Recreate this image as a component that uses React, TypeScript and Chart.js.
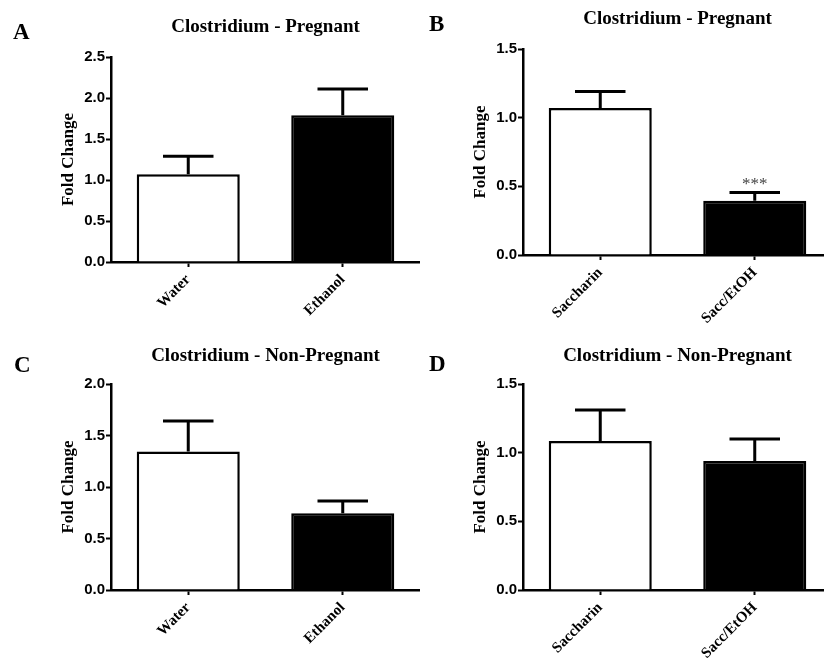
import React, { useEffect, useRef } from "react";
import { Chart, registerables } from "chart.js";

Chart.register(...registerables);

const SERIF = '"Liberation Serif", "Times New Roman", Times, serif';
const SANS = '"Liberation Sans", Arial, Helvetica, sans-serif';

// ---------- data ----------
const waterCategories = ["Water", "Ethanol"];
const saccCategories = ["Saccharin", "Sacc/EtOH"];

const panelAMeans = [1.07, 1.79];
const panelAErrors = [0.22, 0.32];
const panelAMax = 2.5;

const panelBMeans = [1.07, 0.395];
const panelBErrors = [0.12, 0.06];
const panelBMax = 1.5;
const panelBMarks = ["", "***"];

const panelCMeans = [1.345, 0.745];
const panelCErrors = [0.295, 0.12];
const panelCMax = 2.0;

const panelDMeans = [1.085, 0.94];
const panelDErrors = [0.225, 0.16];
const panelDMax = 1.5;

const pregnantTitle = "Clostridium - Pregnant";
const nonPregnantTitle = "Clostridium - Non-Pregnant";
const yAxisTitle = "Fold Change";
const yStep = 0.5;
const barFills = ["#ffffff", "#000000"];

// ---------- plugins ----------
const errorBarPlugin = {
  id: "errorBars",
  afterDatasetsDraw(chart: any, _args: any, opts: any) {
    const { ctx } = chart;
    const meta = chart.getDatasetMeta(0);
    const yScale = chart.scales.y;
    const errs: number[] = opts.errors || [];
    const marks: string[] = opts.marks || [];
    const values: number[] = chart.data.datasets[0].data;
    ctx.save();
    ctx.strokeStyle = "#000";
    ctx.lineWidth = 3;
    meta.data.forEach((bar: any, i: number) => {
      const e = errs[i];
      if (e == null) return;
      const v = values[i];
      const x = bar.x;
      const y0 = yScale.getPixelForValue(v);
      const y1 = yScale.getPixelForValue(v + e);
      const half = (bar.width * 0.49) / 2;
      ctx.beginPath();
      ctx.moveTo(x, y0);
      ctx.lineTo(x, y1);
      ctx.moveTo(x - half, y1);
      ctx.lineTo(x + half, y1);
      ctx.stroke();
      if (marks[i]) {
        ctx.fillStyle = "#444";
        ctx.font = `17px ${SERIF}`;
        ctx.textAlign = "center";
        ctx.textBaseline = "alphabetic";
        ctx.fillText(marks[i], x, y1 - 4);
      }
    });
    ctx.restore();
  },
};

const panelTitlePlugin = {
  id: "panelTitle",
  afterDraw(chart: any, _args: any, opts: any) {
    if (!opts.text) return;
    const { ctx, chartArea } = chart;
    ctx.save();
    ctx.font = `bold 19px ${SERIF}`;
    ctx.fillStyle = "#000";
    ctx.textAlign = "center";
    ctx.textBaseline = "alphabetic";
    ctx.fillText(opts.text, (chartArea.left + chartArea.right) / 2, opts.baseline);
    ctx.restore();
  },
};

type PanelProps = {
  left: number;
  top: number;
  width: number;
  height: number;
  labels: string[];
  values: number[];
  errors: number[];
  marks?: string[];
  yMax: number;
  title: string;
  titleBaseline: number;
  areaLeft: number;
  areaTop: number;
  areaBottom: number;
};

function Panel(p: PanelProps) {
  const ref = useRef<HTMLCanvasElement>(null);
  useEffect(() => {
    const chart = new Chart(ref.current as HTMLCanvasElement, {
      type: "bar",
      data: {
        labels: p.labels,
        datasets: [
          {
            data: p.values,
            backgroundColor: barFills,
            borderColor: "#000",
            borderWidth: 2.5,
            borderSkipped: "start",
            barPercentage: 0.667,
            categoryPercentage: 1,
          },
        ],
      },
      options: {
        responsive: false,
        animation: false,
        devicePixelRatio: 1,
        layout: { padding: { top: p.areaTop, left: 0, right: 0, bottom: 0 } },
        plugins: {
          legend: { display: false },
          tooltip: { enabled: false },
          title: { display: false },
          panelTitle: { text: p.title, baseline: p.titleBaseline },
          errorBars: { errors: p.errors, marks: p.marks || [] },
        } as any,
        scales: {
          x: {
            type: "category",
            offset: true,
            grid: {
              display: true,
              offset: false,
              drawOnChartArea: false,
              drawTicks: true,
              tickLength: 5,
              tickWidth: 2,
              tickColor: "#000",
            },
            border: { display: true, color: "#000", width: 2.5 },
            ticks: {
              color: "#000",
              font: { family: SERIF, size: 15, weight: "bold" },
              maxRotation: 45,
              minRotation: 45,
              padding: 4,
            },
            afterFit(scale: any) {
              scale.height = p.height - p.areaBottom;
            },
          },
          y: {
            min: 0,
            max: p.yMax,
            grid: {
              display: true,
              drawOnChartArea: false,
              drawTicks: true,
              tickLength: 5,
              tickWidth: 2,
              tickColor: "#000",
            },
            border: { display: true, color: "#000", width: 2.5 },
            ticks: {
              stepSize: yStep,
              color: "#000",
              padding: 1,
              font: { family: SANS, size: 15, weight: "bold" },
              callback: (v: any) => Number(v).toFixed(1),
            },
            title: {
              display: true,
              text: yAxisTitle,
              color: "#000",
              font: { family: SERIF, size: 17, weight: "bold" },
              padding: { top: 58, bottom: 0 },
            },
            afterFit(scale: any) {
              scale.width = p.areaLeft;
            },
          },
        } as any,
      },
      plugins: [errorBarPlugin, panelTitlePlugin],
    } as any);
    return () => chart.destroy();
  }, []);
  return (
    <canvas
      ref={ref}
      width={p.width}
      height={p.height}
      style={{ position: "absolute", left: p.left, top: p.top, width: p.width, height: p.height }}
    />
  );
}

const letterStyle = (left: number, top: number): React.CSSProperties => ({
  position: "absolute",
  left,
  top,
  fontFamily: SERIF,
  fontWeight: "bold",
  fontSize: 23,
  lineHeight: 1,
  color: "#000",
});

export default function App() {
  return (
    <div
      style={{
        position: "absolute",
        left: 0,
        top: 0,
        width: 824,
        height: 663,
        overflow: "hidden",
        background: "#fff",
      }}
    >
      <Panel
        left={0}
        top={0}
        width={420}
        height={330}
        labels={waterCategories}
        values={panelAMeans}
        errors={panelAErrors}
        yMax={panelAMax}
        title={pregnantTitle}
        titleBaseline={32}
        areaLeft={111}
        areaTop={57}
        areaBottom={262}
      />
      <Panel
        left={412}
        top={0}
        width={420}
        height={330}
        labels={saccCategories}
        values={panelBMeans}
        errors={panelBErrors}
        marks={panelBMarks}
        yMax={panelBMax}
        title={pregnantTitle}
        titleBaseline={24}
        areaLeft={111}
        areaTop={49}
        areaBottom={255}
      />
      <Panel
        left={0}
        top={330}
        width={420}
        height={333}
        labels={waterCategories}
        values={panelCMeans}
        errors={panelCErrors}
        yMax={panelCMax}
        title={nonPregnantTitle}
        titleBaseline={31}
        areaLeft={111}
        areaTop={54}
        areaBottom={260}
      />
      <Panel
        left={412}
        top={330}
        width={420}
        height={333}
        labels={saccCategories}
        values={panelDMeans}
        errors={panelDErrors}
        yMax={panelDMax}
        title={nonPregnantTitle}
        titleBaseline={31}
        areaLeft={111}
        areaTop={54}
        areaBottom={260}
      />
      <div style={letterStyle(13, 20)}>A</div>
      <div style={letterStyle(429, 12)}>B</div>
      <div style={letterStyle(14, 353)}>C</div>
      <div style={letterStyle(429, 352)}>D</div>
    </div>
  );
}
